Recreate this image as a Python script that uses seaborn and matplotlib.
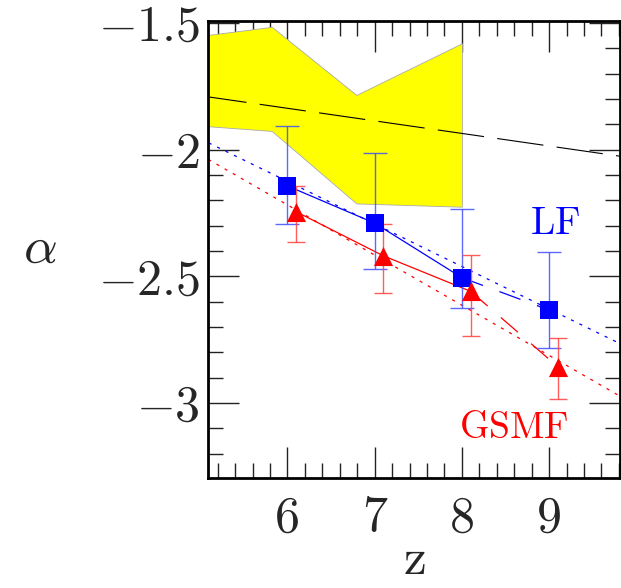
import numpy as np
import pandas as pd
import matplotlib
matplotlib.use("Agg")
import matplotlib.pyplot as plt
import seaborn as sns
from matplotlib.ticker import MultipleLocator, FixedLocator

# ---- data ----
lf_z = [6.0, 7.0, 8.0, 9.0]
lf_alpha = [-2.143, -2.290, -2.505, -2.633]
lf_hi = [-1.905, -2.015, -2.234, -2.405]
lf_lo = [-2.294, -2.472, -2.624, -2.784]

gs_z = [6.1, 7.1, 8.1, 9.1]
gs_alpha = [-2.245, -2.419, -2.559, -2.857]
gs_hi = [-2.143, -2.295, -2.415, -2.745]
gs_lo = [-2.363, -2.565, -2.736, -2.986]

fit_z = [5.0, 10.0]
lf_fit = [-1.957, -2.797]
gs_fit = [-2.020, -3.010]
black_fit = [-1.787, -2.035]

band_z = [5.0, 5.82, 6.79, 8.0]
band_hi = [-1.551, -1.515, -1.784, -1.580]
band_lo = [-1.905, -1.926, -2.212, -2.225]

xticks = [6, 7, 8, 9]
xticklabels = ["6", "7", "8", "9"]
yticks = [-3.0, -2.5, -2.0, -1.5]
yticklabels = [r"$-3$", r"$-2.5$", r"$-2$", r"$-1.5$"]

# ---- style ----
sns.set_style("ticks")
plt.rcParams["mathtext.fontset"] = "cm"
plt.rcParams["font.family"] = ["cmr10", "DejaVu Serif"]

fig = plt.figure(figsize=(6.21, 5.88), dpi=100)
ax = fig.add_axes([0.3354, 0.1879, 0.6626, 0.7764])

# yellow band
ax.fill_between(band_z, band_lo, band_hi, facecolor="#ffff00",
                edgecolor="#aaaaaa", linewidth=0.6, zorder=1)

# fit lines
sns.lineplot(x=fit_z, y=black_fit, ax=ax, color="black", linewidth=0.8,
             linestyle=(0, (42, 12)), zorder=2)
sns.lineplot(x=fit_z, y=lf_fit, ax=ax, color="blue", linewidth=0.9,
             linestyle=(0, (2.5, 5)), zorder=2)
sns.lineplot(x=fit_z, y=gs_fit, ax=ax, color="red", linewidth=0.9,
             linestyle=(0, (2.5, 5)), zorder=2)

# connecting lines: solid for first three, dashed to the last point
sns.lineplot(x=lf_z[:3], y=lf_alpha[:3], ax=ax, color="blue", linewidth=0.9,
             sort=False, zorder=3)
sns.lineplot(x=lf_z[2:], y=lf_alpha[2:], ax=ax, color="blue", linewidth=0.9,
             linestyle=(0, (18, 14)), sort=False, zorder=3)
sns.lineplot(x=gs_z[:3], y=gs_alpha[:3], ax=ax, color="red", linewidth=0.9,
             sort=False, zorder=3)
sns.lineplot(x=gs_z[2:], y=gs_alpha[2:], ax=ax, color="red", linewidth=0.9,
             linestyle=(0, (18, 14)), sort=False, zorder=3)

# error bars
lf_a = np.array(lf_alpha)
gs_a = np.array(gs_alpha)
ax.errorbar(lf_z, lf_alpha, yerr=[lf_a - np.array(lf_lo), np.array(lf_hi) - lf_a],
            fmt="none", ecolor=(0.25, 0.3, 1.0, 0.85), elinewidth=1.0,
            capsize=8.5, capthick=1.0, zorder=4)
ax.errorbar(gs_z, gs_alpha, yerr=[gs_a - np.array(gs_lo), np.array(gs_hi) - gs_a],
            fmt="none", ecolor=(1.0, 0.25, 0.25, 0.85), elinewidth=1.0,
            capsize=6.5, capthick=1.0, zorder=4)

# markers
sns.scatterplot(x=lf_z, y=lf_alpha, ax=ax, marker="s", color="blue", s=150,
                edgecolor="blue", linewidth=0, zorder=5)
sns.scatterplot(x=gs_z, y=gs_alpha, ax=ax, marker="^", color="red", s=190,
                edgecolor="red", linewidth=0, zorder=5)

# text labels
ax.text(9.07, -2.294, r"$\mathrm{LF}$", color="blue", fontsize=28,
        ha="center", va="center")
ax.text(8.59, -3.101, r"$\mathrm{GSMF}$", color="red", fontsize=27,
        ha="center", va="center")

# axes
ax.set_xlim(5.092, 9.81)
ax.set_ylim(-3.294, -1.492)
ax.xaxis.set_major_locator(FixedLocator(xticks))
ax.set_xticklabels(xticklabels)
ax.xaxis.set_minor_locator(MultipleLocator(0.2))
ax.yaxis.set_major_locator(FixedLocator(yticks))
ax.set_yticklabels(yticklabels)
ax.yaxis.set_minor_locator(MultipleLocator(0.1))

ax.tick_params(which="both", direction="in", top=True, right=True,
               color="#222222")
ax.tick_params(which="major", length=22, width=1.0, labelsize=36)
ax.tick_params(which="minor", length=11, width=1.0)
ax.tick_params(axis="x", which="major", pad=13)
ax.tick_params(axis="y", which="major", pad=6)

for s in ax.spines.values():
    s.set_linewidth(2.0)
    s.set_color("black")

ax.set_xlabel(r"$\mathrm{z}$", fontsize=37, labelpad=0)
ax.set_ylabel(r"$\alpha$", fontsize=38, rotation=0, labelpad=0)
ax.yaxis.label.set_va("center")
ax.yaxis.label.set_ha("center")
ax.xaxis.label.set_va("bottom")
ax.yaxis.set_label_coords(-0.41, 0.5)
ax.xaxis.set_label_coords(0.5, -0.233)

for t in ax.get_xticklabels() + ax.get_yticklabels():
    t.set_fontfamily(["cmr10", "DejaVu Serif"])

fig.savefig("out.png", dpi=100)
